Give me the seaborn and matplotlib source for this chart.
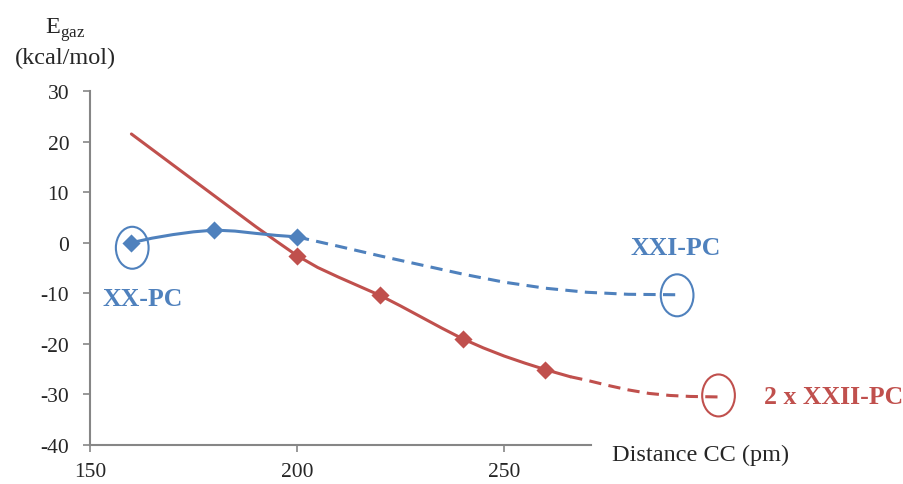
import matplotlib
matplotlib.use("Agg")
import matplotlib.pyplot as plt
from matplotlib.patches import Ellipse
import pandas as pd
import seaborn as sns

# markers
xx_x = [160, 180, 200]
xx_y = [0.0, 2.5, 1.15]
xxii_x = [200, 220, 240, 260]
xxii_y = [-2.55, -10.4, -19.0, -25.1]

# curve points
blue_solid_x = [160, 165, 170, 175, 180, 185, 190, 195, 200]
blue_solid_y = [0.0, 0.9, 1.6, 2.15, 2.5, 2.3, 1.85, 1.45, 1.15]
blue_dash_x = [200, 210, 220, 230, 240, 250, 260, 270, 280, 293]
blue_dash_y = [1.15, -0.7, -2.6, -4.4, -6.2, -7.8, -9.0, -9.8, -10.2, -10.3]
red_solid_x = [160, 170, 180, 190, 195, 200, 205, 210, 215, 220, 225, 230, 235, 240,
               245, 250, 255, 260, 266]
red_solid_y = [21.5, 15.4, 9.3, 3.2, 0.3, -2.55, -4.9, -6.8, -8.6, -10.4, -12.5, -14.7,
               -16.9, -19.0, -20.8, -22.4, -23.8, -25.1, -26.5]
red_dash_x = [266, 270, 275, 280, 285, 290, 295, 302]
red_dash_y = [-26.5, -27.2, -28.2, -29.1, -29.8, -30.2, -30.4, -30.5]

# circled end states
circles = [(160.2, -1.0, "blue"), (291.8, -10.4, "blue"), (301.8, -30.2, "red")]

BLUE = "#4F81BD"
RED = "#C0504D"
GREY = "#868686"

sns.set_theme(style="white")
plt.rcParams["font.family"] = ["Liberation Serif", "DejaVu Serif"]
plt.rcParams["mathtext.fontset"] = "custom"
plt.rcParams["mathtext.rm"] = "Liberation Serif"
plt.rcParams["axes.unicode_minus"] = False

fig = plt.figure(figsize=(9.04, 4.85), dpi=100)
ax = fig.add_axes([90 / 904, 39 / 485, 501 / 904, 354 / 485])

lw = 2.2
sns.lineplot(x=red_solid_x, y=red_solid_y, color=RED, lw=lw, ax=ax, sort=False)
sns.lineplot(x=red_dash_x, y=red_dash_y, color=RED, lw=lw, ax=ax, sort=False,
             dashes=False, linestyle=(0, (4, 2.4)))
sns.lineplot(x=blue_solid_x, y=blue_solid_y, color=BLUE, lw=lw, ax=ax, sort=False)
sns.lineplot(x=blue_dash_x, y=blue_dash_y, color=BLUE, lw=lw, ax=ax, sort=False,
             dashes=False, linestyle=(0, (4, 2.4)))
for line in ax.lines:
    line.set_clip_on(False)
    line.set_solid_joinstyle("round")

sns.scatterplot(x=xxii_x, y=xxii_y, marker="D", s=85, color=RED, edgecolor=RED,
                linewidth=0, ax=ax, zorder=4, clip_on=False)
sns.scatterplot(x=xx_x, y=xx_y, marker="D", s=85, color=BLUE, edgecolor=BLUE,
                linewidth=0, ax=ax, zorder=4, clip_on=False)

for cx, cy, c in circles:
    col = BLUE if c == "blue" else RED
    ax.add_patch(Ellipse((cx, cy), 7.9, 8.3, fill=False, ec=col, lw=1.5,
                         clip_on=False, zorder=5))

ax.set_xlim(150, 271)
ax.set_ylim(-40, 30)
ax.set_xticks([150, 200, 250])
ax.set_yticks(range(-40, 31, 10))
ax.tick_params(axis="y", direction="out", length=5, width=1.2, color=GREY,
               left=True, pad=10, labelsize=15.5)
ax.tick_params(axis="x", direction="out", length=5, width=1.2, color=GREY,
               bottom=True, pad=7, labelsize=15.5)
for side in ["top", "right"]:
    ax.spines[side].set_visible(False)
for side in ["left", "bottom"]:
    ax.spines[side].set_color(GREY)
    ax.spines[side].set_linewidth(1.5)
ax.set_xlabel("")
ax.set_ylabel("")

fig.text(612 / 904, 1 - 455 / 485, "Distance CC (pm)", ha="left", va="center",
         fontsize=17.5)
fig.text(65 / 904, 1 - 30 / 485, r"E$_{\rm gaz}$", ha="center", va="center",
         fontsize=17.5)
fig.text(65 / 904, 1 - 58 / 485, "(kcal/mol)", ha="center", va="center",
         fontsize=17.5)

fig.text(143 / 904, 1 - 300 / 485, "XX-PC", ha="center", va="center",
         fontsize=18.5, fontweight="bold", color=BLUE)
fig.text(676 / 904, 1 - 249 / 485, "XXI-PC", ha="center", va="center",
         fontsize=18.5, fontweight="bold", color=BLUE)
fig.text(834 / 904, 1 - 398 / 485, "2 x XXII-PC", ha="center", va="center",
         fontsize=18.5, fontweight="bold", color=RED)

fig.savefig("out.png", dpi=100)
